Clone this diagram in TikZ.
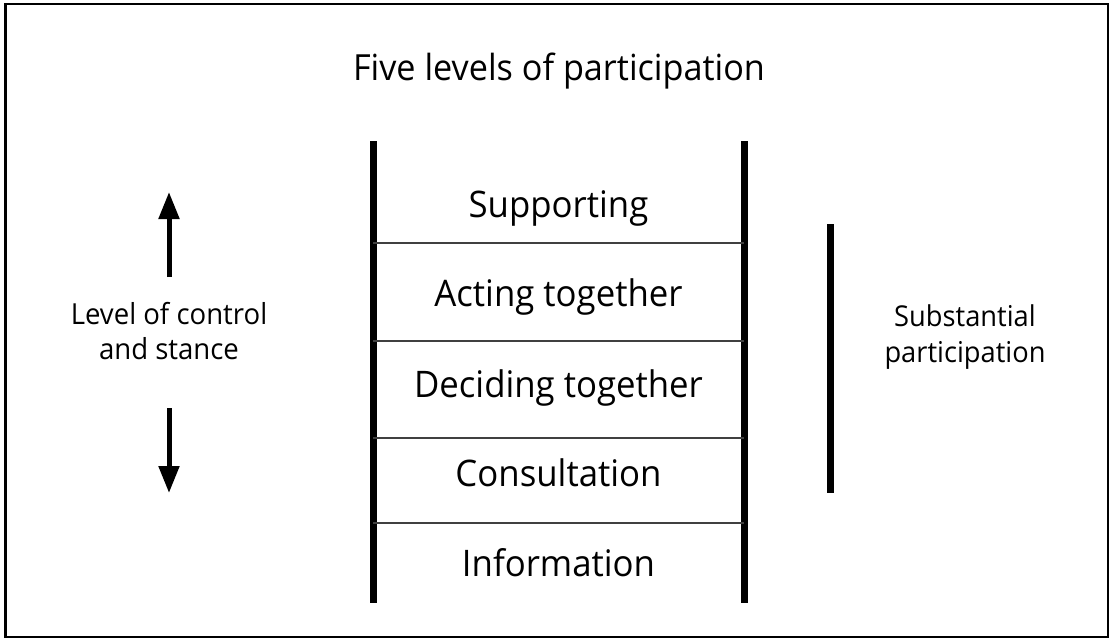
\documentclass[tikz,border=0pt]{standalone}
\usepackage{fontspec}
\setmainfont[FakeStretch=0.95]{Open Sans}
\usetikzlibrary{arrows.meta}
\begin{document}
\begin{tikzpicture}[x=1pt,y=-1pt,
  rail/.style={line width=7pt},
  rung/.style={line width=1.2pt,black!75},
  bigarrow/.style={line width=5pt,-{Triangle[width=20pt,length=27pt]}},
  steptext/.style={font=\fontsize{36.6}{44}\selectfont,anchor=base,inner sep=0pt},
  sidetext/.style={font=\fontsize{29}{35}\selectfont,align=center,inner sep=0pt},
  sidetextb/.style={font=\fontsize{28.7}{36}\selectfont,align=center,inner sep=0pt},
  titletext/.style={font=\fontsize{36}{43}\selectfont,anchor=base,inner sep=0pt}]
\useasboundingbox (0,0) rectangle (1112,640);
\draw[line width=2.2pt] (5.5,4) rectangle (1108,637);
\node[titletext] (title) at (559,80) {Five levels of participation};
% ladder
\coordinate (lt) at (373,141); \coordinate (lb) at (373,603);
\coordinate (rt) at (744,141); \coordinate (rb) at (744,603);
\draw[rail] (lt) -- (lb);
\draw[rail] (rt) -- (rb);
\foreach \y/\n in {243/r1,341/r2,438/r3,523/r4}{
  \coordinate (\n l) at (373,\y); \coordinate (\n r) at (744,\y);
  \draw[rung] (\n l) -- (\n r);
}
\node[steptext] (s5) at (558.5,217) {Supporting};
\node[steptext] (s4) at (558.5,306) {Acting together};
\node[steptext] (s3) at (558.5,397) {Deciding together};
\node[steptext] (s2) at (558.5,486) {Consultation};
\node[steptext] (s1) at (558.5,576) {Information};
% left
\node[sidetext] (ctrl) at (169,331) {Level of control\\and stance};
\coordinate (ua) at (169,277); \coordinate (ub) at (169,192);
\coordinate (da) at (169,408); \coordinate (db) at (169,493);
\draw[bigarrow] (ua) -- (ub);
\draw[bigarrow] (da) -- (db);
% right
\coordinate (bt) at (830,224); \coordinate (bb) at (830,493);
\draw[rail] (bt) -- (bb);
\node[sidetextb] (subst) at (965,337) {Substantial\\participation};
\end{tikzpicture}
\end{document}
